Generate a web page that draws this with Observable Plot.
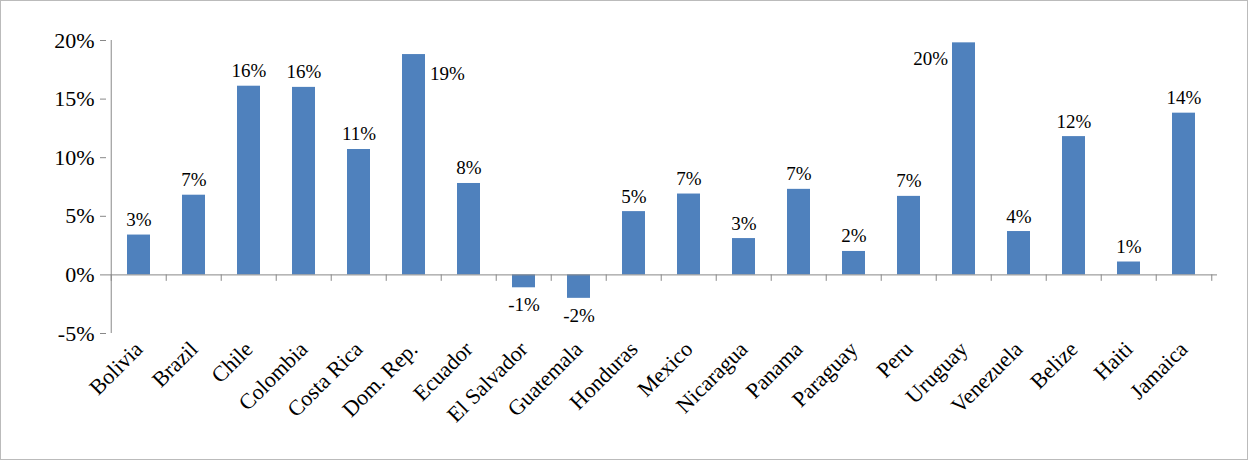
<!DOCTYPE html>
<html><head><meta charset="utf-8">
<script src="https://cdn.jsdelivr.net/npm/d3@7"></script>
<script src="https://cdn.jsdelivr.net/npm/@observablehq/plot@0.6"></script>
<style>body{margin:0;background:#fff}#c svg{display:block}#c{width:1246px;height:458px;border:1px solid #bbb;overflow:hidden}</style>
</head><body><div id="c"></div>
<script>
const categories = ["Bolivia","Brazil","Chile","Colombia","Costa Rica","Dom. Rep.","Ecuador","El Salvador","Guatemala","Honduras","Mexico","Nicaragua","Panama","Paraguay","Peru","Uruguay","Venezuela","Belize","Haiti","Jamaica"];
const values = [3.4,6.8,16.1,16.0,10.7,18.8,7.8,-1.1,-2.0,5.4,6.9,3.1,7.3,2.0,6.7,19.8,3.7,11.8,1.1,13.8];
const yTicks = [-5,0,5,10,15,20];
const data = categories.map((c,i)=>({c, v: values[i]}));
const font = "Liberation Serif, DejaVu Serif, serif";
const step = (1216-105)/categories.length;
const special = ["Dom. Rep.", "Uruguay"];
const fmt = d=>Math.round(d.v)+"%";
const chart = Plot.plot({
  width: 1246, height: 458,
  marginLeft: 105, marginRight: 30, marginTop: 39, marginBottom: 126,
  style: {fontFamily: font},
  x: {domain: categories, paddingInner: 0.58, paddingOuter: 0.29, label: null},
  y: {domain: [-5, 20], label: null},
  marks: [
    Plot.barY(data, {x: "c", y: "v", fill: "#4f81bd"}),
    Plot.ruleY([0], {stroke: "#888"}),
    Plot.ruleX(categories, {x: d=>d, y1: 0, y2: -0.55, dx: -step/2, stroke: "#888"}),
    Plot.ruleX([categories[categories.length-1]], {x: d=>d, y1: 0, y2: -0.55, dx: step/2, stroke: "#888"}),
    Plot.ruleX([0], {x: ()=>categories[0], y1: -5, y2: 20, dx: -step/2, stroke: "#888"}),
    Plot.axisY(yTicks, {tickFormat: d=>d+"%", fontSize: 22, tickSize: 6, tickPadding: 6, stroke:"#888", fill:"#000", anchor:"left"}),
    Plot.axisX({tickSize: 0, tickRotate: -45, fontSize: 22, tickPadding: 12, fill: "#000"}),
    Plot.text(data.filter(d=>d.v>=0 && !special.includes(d.c)), {x: "c", y: "v", text: fmt, fontSize: 19, lineAnchor: "bottom", dy: -9, fill: "#000"}),
    Plot.text(data.filter(d=>d.v<0), {x: "c", y: "v", text: fmt, fontSize: 19, lineAnchor: "top", dy: 10, fill: "#000"}),
    Plot.text(data.filter(d=>d.c==="Dom. Rep."), {x: "c", y: "v", text: fmt, fontSize: 19, textAnchor: "start", dx: 16, dy: 19, fill: "#000"}),
    Plot.text(data.filter(d=>d.c==="Uruguay"), {x: "c", y: "v", text: fmt, fontSize: 19, textAnchor: "end", dx: -16, dy: 16, fill: "#000"})
  ]
});
document.getElementById("c").append(chart);
</script></body></html>
